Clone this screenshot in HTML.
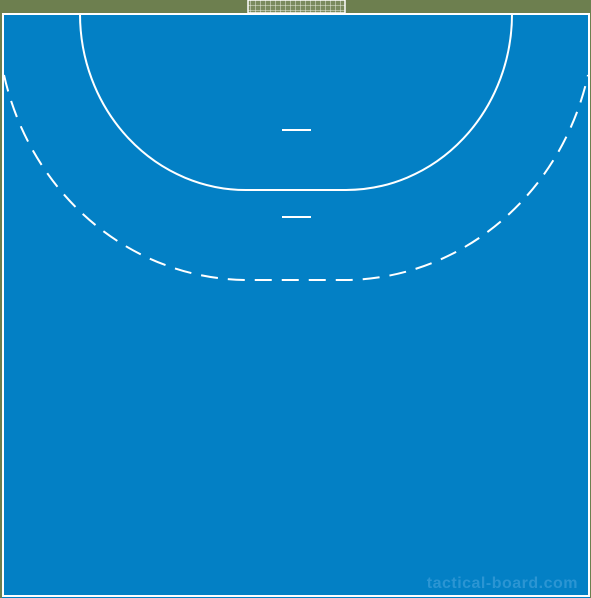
<!DOCTYPE html>
<html><head><meta charset="utf-8"><style>
html,body{margin:0;padding:0;background:#6d7f4f;}
svg{display:block;}
</style></head><body>
<svg width="591" height="598" viewBox="0 0 591 598" xmlns="http://www.w3.org/2000/svg">
<rect x="0" y="0" width="591" height="598" fill="#6d7f4f"/>
<rect x="2" y="13" width="588" height="585" fill="#0380c5"/>
<defs><pattern id="net" width="5" height="5" patternUnits="userSpaceOnUse"><path d="M0 0H5M0 0V5" stroke="#e8ece0" stroke-width="1" fill="none"/></pattern></defs>
<rect x="248" y="0" width="97" height="13" fill="#7a8a5e"/>
<rect x="248" y="0" width="97" height="13" fill="url(#net)"/>
<rect x="248" y="0" width="97" height="13" fill="none" stroke="#fff" stroke-width="1.5"/>
<rect x="3" y="14" width="586" height="582" fill="none" stroke="#fff" stroke-width="2"/>
<path d="M80 14 A166 176 0 0 0 246 190 L346 190 A166 176 0 0 0 512 14" fill="none" stroke="#fff" stroke-width="2"/>
<path d="M4 75 A251 266 0 0 0 246 280 L346 280 A251 266 0 0 0 588 75" fill="none" stroke="#fff" stroke-width="2" stroke-dasharray="17 10"/>
<line x1="282" y1="130" x2="311" y2="130" stroke="#fff" stroke-width="2"/>
<line x1="282" y1="217" x2="311" y2="217" stroke="#fff" stroke-width="2"/>
<text x="578" y="588" text-anchor="end" font-family="'Liberation Sans', sans-serif" font-weight="bold" font-size="16" letter-spacing="0.5" fill="#2b95d3">tactical-board.com</text>
</svg>
</body></html>
